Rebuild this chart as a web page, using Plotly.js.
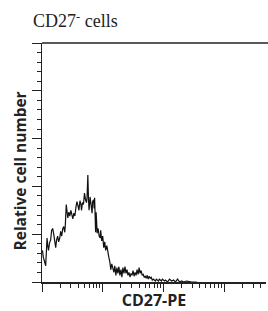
<!DOCTYPE html>
<html>
<head>
<meta charset="utf-8">
<script src="https://cdn.plot.ly/plotly-3.0.1.min.js"></script>
<style>html,body{margin:0;padding:0;background:#fff;overflow:hidden;}#chart{width:268px;height:311px;}</style>
</head>
<body>
<div id="chart"></div>
<script>
// CD27-PE fluorescence (log scale)
const fluorescence = [1.00,1.02,1.05,1.10,1.15,1.19,1.21,1.24,1.28,1.33,1.39,1.44,1.50,1.56,1.62,1.68,1.74,1.81,1.88,1.96,
  2.03,2.11,2.20,2.28,2.37,2.42,2.51,2.61,2.66,2.77,2.87,2.99,3.10,3.22,3.35,3.48,3.62,3.76,3.91,4.06,
  4.22,4.38,4.47,4.64,4.82,5.01,5.21,5.41,5.52,5.69,5.84,5.96,6.19,6.43,6.68,6.81,7.08,7.22,7.36,7.64,
  7.79,7.94,8.10,8.41,8.74,9.09,9.26,9.62,10.0,10.4,10.8,11.2,11.7,12.1,12.6,13.1,13.6,14.1,14.7,15.3,
  15.8,16.5,17.1,17.8,18.5,19.2,20.0,20.7,21.5,22.4,23.3,24.2,25.1,26.1,27.1,28.2,29.3,30.4,31.6,32.9,
  34.1,35.5,36.8,38.3,39.8,41.3,42.9,44.7,46.4,48.3,50.1,52.1,54.1,56.2,58.5,60.8,63.1,65.6,68.1,73.6,
  76.5,82.5,85.8,92.6,96.2,104,108,117,126,136,147,158,171,185,200,215,241,292,355];
// Relative cell number (event counts)
const cellCounts = [31,33,26,21,17,36,46,39,33,41,44,54,56,50,44,36,44,48,42,46,
  53,48,56,58,52,59,81,71,67,73,69,75,71,66,72,69,78,84,80,75,
  85,81,75,83,81,93,86,83,88,112,86,75,89,79,72,84,86,77,88,52,
  73,63,51,56,48,46,54,43,48,36,42,33,38,31,26,21,13,19,15,10,
  17,7,15,9,16,7,13,5,15,9,16,9,13,7,10,5,9,7,12,6,
  10,7,13,8,15,9,12,7,8,5,6,4,7,3,6,4,5,2,3,1,
  3,1,3,1,3,1,2,0,3,1,2,0,3,0,1,0,1,0,0];

const chartTitle = 'CD27<sup>-</sup> cells';
const xTitle = 'CD27-PE';
const yTitle = 'Relative cell number';

const trace = {
  x: fluorescence,
  y: cellCounts,
  type: 'scatter',
  mode: 'lines',
  line: {color: '#111', width: 1.2},
  hoverinfo: 'skip'
};

const axisColor = '#222';
const W = 268, H = 311, ML = 42, MR = 2, MT = 43, MB = 29;
const PW = W - ML - MR, PH = H - MT - MB;
const layout = {
  width: W,
  height: H,
  margin: {l: ML, r: MR, t: MT, b: MB, pad: 0},
  paper_bgcolor: '#fff',
  plot_bgcolor: '#fff',
  showlegend: false,
  title: {
    text: chartTitle,
    font: {family: 'Liberation Serif, serif', size: 18, color: '#222'},
    xref: 'container', yref: 'container',
    x: 33/W, xanchor: 'left',
    y: 1 - 21/H, yanchor: 'middle'
  },
  shapes: [{
    type: 'line', xref: 'paper', yref: 'paper',
    x0: 0, x1: 1 + MR/PW, y0: 1, y1: 1,
    line: {color: axisColor, width: 1.5}
  }],
  annotations: [{
    text: '<b>' + yTitle + '</b>',
    xref: 'paper', yref: 'paper',
    x: (19 - ML)/PW, y: (H - MB - 171.5)/PH,
    xanchor: 'center', yanchor: 'middle',
    textangle: -90, showarrow: false,
    font: {family: 'Open Sans, sans-serif', size: 15.5, color: '#222'}
  }],
  xaxis: {
    type: 'log',
    range: [0, 3.69],
    showline: true, linecolor: axisColor, linewidth: 1.5,
    mirror: false,
    ticks: 'outside', ticklen: 8, tickwidth: 1, tickcolor: axisColor,
    dtick: 1,
    showticklabels: false,
    showgrid: false, zeroline: false,
    minor: {ticks: 'outside', ticklen: 4, tickwidth: 1, tickcolor: axisColor, dtick: 'D1', showgrid: false},
    title: {text: xTitle, font: {family: 'Open Sans, sans-serif', size: 16, color: '#222', weight: 'bold'}, standoff: 10},
    fixedrange: true
  },
  yaxis: {
    range: [0, 250],
    showline: true, linecolor: axisColor, linewidth: 1.5,
    mirror: false,
    ticks: 'outside', ticklen: 9, tickwidth: 1, tickcolor: axisColor,
    dtick: 50,
    showticklabels: false,
    showgrid: false, zeroline: false,
    minor: {ticks: 'outside', ticklen: 4, tickwidth: 1, tickcolor: axisColor, dtick: 10, showgrid: false},
    fixedrange: true
  }
};

Plotly.newPlot('chart', [trace], layout, {displayModeBar: false, staticPlot: true});
</script>
</body>
</html>
